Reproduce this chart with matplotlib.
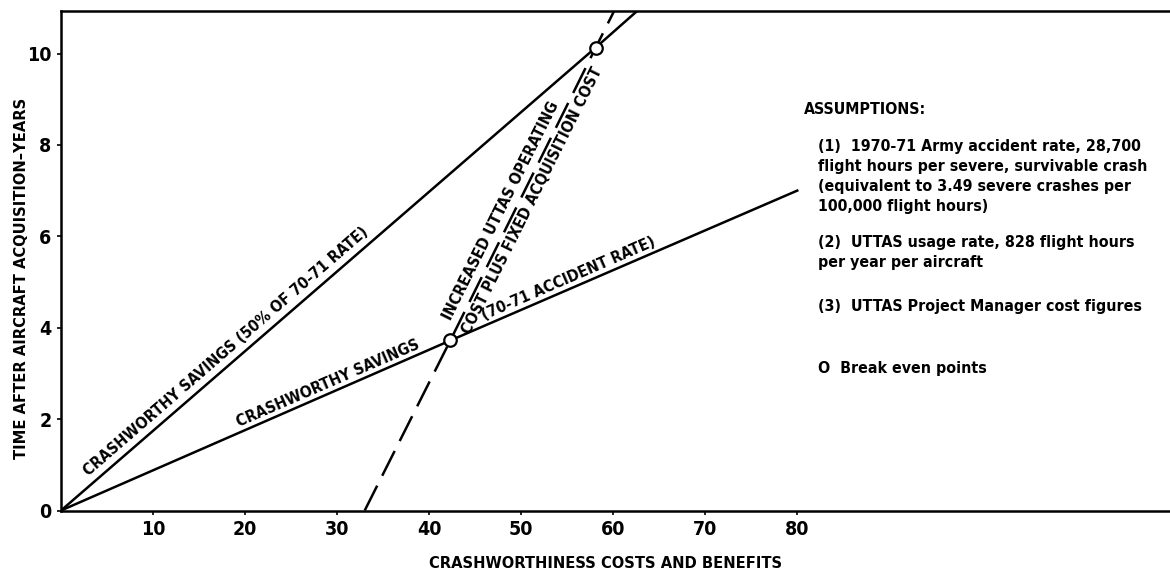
import numpy as np
import matplotlib
matplotlib.use("Agg")
import matplotlib.pyplot as plt

plt.rcParams['font.family'] = ['DejaVu Sans']
plt.rcParams['font.stretch'] = 'condensed'
plt.rcParams['font.weight'] = 'bold'
plt.rcParams['lines.scale_dashes'] = False

# curves (cost/benefit units vs years)
savings_50_x = [0, 58.1, 62.6]
savings_50_y = [0, 10.13, 10.93]
savings_x = [0, 42.3, 80.0]
savings_y = [0, 3.72, 7.0]
uttas_cost_x = [33.0, 42.3, 58.1, 60.1]
uttas_cost_y = [0, 3.72, 10.13, 10.93]
break_even_x = [42.3, 58.1]
break_even_y = [3.72, 10.13]

x_ticks = [10, 20, 30, 40, 50, 60, 70, 80]
y_ticks = [0, 2, 4, 6, 8, 10]

assumption_lines = [
    "(1)  1970-71 Army accident rate, 28,700",
    "flight hours per severe, survivable crash",
    "(equivalent to 3.49 severe crashes per",
    "100,000 flight hours)",
    "(2)  UTTAS usage rate, 828 flight hours",
    "per year per aircraft",
    "(3)  UTTAS Project Manager cost figures",
]

W, H = 1170, 571
fig = plt.figure(figsize=(W / 100, H / 100), dpi=100)
ax = fig.add_axes([61 / W, (H - 510.5) / H, (W - 61) / W, 499.5 / H])
ax.set_xlim(0, 120.5)
ax.set_ylim(0, 10.93)

lw = 1.8
ax.plot(savings_50_x, savings_50_y, color='black', lw=lw)
ax.plot(savings_x, savings_y, color='black', lw=lw)
ax.plot(uttas_cost_x, uttas_cost_y, color='black', lw=lw, dashes=(20, 8))
ax.plot(break_even_x, break_even_y, 'o', ms=9, mfc='white', mec='black', mew=1.6, zorder=5)

for side in ['top', 'left', 'bottom']:
    ax.spines[side].set_linewidth(1.8)
ax.spines['right'].set_visible(False)

ax.set_xticks(x_ticks)
ax.set_yticks(y_ticks)
ax.tick_params(axis='both', direction='out', length=3, width=1.2, labelsize=14, pad=4)


def line_label(xs, ys, t, text, offset):
    # place text along the segment xs/ys at fraction t, shifted sideways (pixels)
    p0 = ax.transData.transform((xs[0], ys[0]))
    p1 = ax.transData.transform((xs[-1], ys[-1]))
    ang = np.arctan2(p1[1] - p0[1], p1[0] - p0[0])
    pc = p0 + (p1 - p0) * t
    n = np.array([-np.sin(ang), np.cos(ang)])
    x, y = ax.transData.inverted().transform(pc + n * offset)
    ax.text(x, y, text, rotation=np.degrees(ang), rotation_mode='anchor',
            ha='center', va='center', fontsize=11.3, fontweight='bold')


line_label(savings_50_x, savings_50_y, 0.30, "CRASHWORTHY SAVINGS (50% OF 70-71 RATE)", 12)
line_label(savings_x, savings_y, 0.368, "CRASHWORTHY SAVINGS", 10)
line_label(savings_x, savings_y, 0.695, "(70-71 ACCIDENT RATE)", 10)
line_label(uttas_cost_x, uttas_cost_y, 0.59, "INCREASED UTTAS OPERATING", 12)
line_label(uttas_cost_x, uttas_cost_y, 0.63, "COST PLUS FIXED ACQUISITION COST", -12)

fig.text(22 / W, 1 - 278 / H, "TIME AFTER AIRCRAFT ACQUISITION\u2013YEARS", rotation=90,
         ha='center', va='center', fontsize=11.8, fontweight='bold')
fig.text(606 / W, 1 - 563 / H, "CRASHWORTHINESS COSTS AND BENEFITS",
         ha='center', va='center', fontsize=11.8, fontweight='bold')

fig.text(804 / W, 1 - 110 / H, "ASSUMPTIONS:", ha='left', va='center',
         fontsize=11.4, fontweight='bold')
line_y = [147, 167, 187, 207, 242, 262, 306]
for s, yy in zip(assumption_lines, line_y):
    fig.text(818 / W, 1 - yy / H, s, ha='left', va='center', fontsize=11.4, fontweight='bold')
fig.text(818 / W, 1 - 368 / H, "O  Break even points", ha='left', va='center',
         fontsize=11.4, fontweight='bold')

fig.savefig("out.png", dpi=100)
